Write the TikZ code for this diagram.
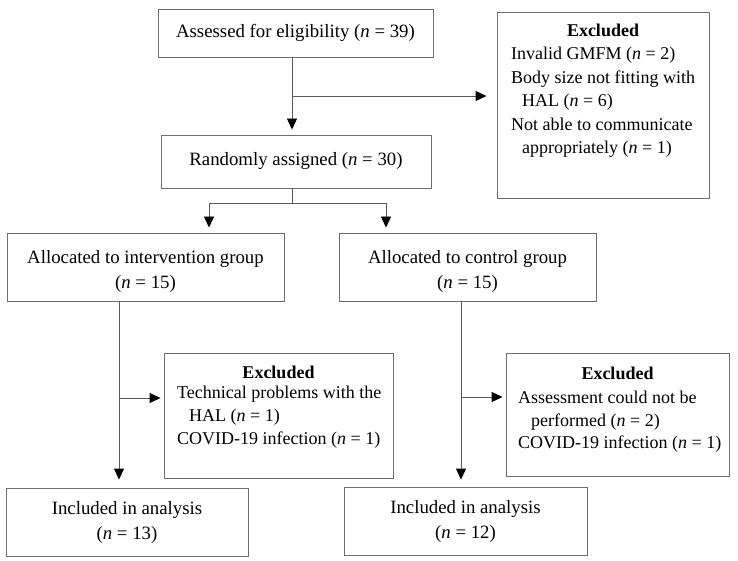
\documentclass[tikz,border=0pt]{standalone}
\usepackage{fontspec}
\setmainfont{Liberation Serif}
\usetikzlibrary{arrows.meta,calc}
\definecolor{boxgray}{HTML}{6E6E6E}
\definecolor{linegray}{HTML}{5A5A5A}
\tikzset{
  box/.style={draw=boxgray, line width=0.9pt, rectangle, inner sep=0pt, align=center,
    font=\fontsize{18.8}{25}\selectfont},
  conn/.style={draw=linegray, line width=0.9pt},
  arr/.style={conn, -{Triangle[length=11pt,width=10pt,color=black,fill=black]}},
  txt/.style={inner sep=0pt, font=\fontsize{18}{23.5}\selectfont},
}
\newcommand{\nn}{\textit{n}}
\newcommand{\lowtwo}[2]{\raisebox{-4pt}[\height][\depth]{\begin{tabular}{@{}c@{}}#1\\#2\end{tabular}}}
\begin{document}
\begin{tikzpicture}[x=1pt,y=-1pt]
\useasboundingbox (0,0) rectangle (738,561);
% boxes
\node[box, minimum width=275pt, minimum height=48pt] (assess) at (295.5,33) {Assessed for eligibility (\nn{} = 39)};
\node[box, minimum width=212pt, minimum height=186pt] (excl1) at (603,105) {};
\node[box, minimum width=270pt, minimum height=53pt] (rand) at (296,161.5) {Randomly assigned (\nn{} = 30)};
\node[box, minimum width=277pt, minimum height=68pt] (interv) at (145.5,267) {\lowtwo{Allocated to intervention group}{(\nn{} = 15)}};
\node[box, minimum width=257pt, minimum height=68pt] (control) at (467.5,267) {\lowtwo{Allocated to control group}{(\nn{} = 15)}};
\node[box, minimum width=229pt, minimum height=125pt] (excl2) at (278.5,415.5) {};
\node[box, minimum width=223pt, minimum height=123pt] (excl3) at (617.5,414.5) {};
\node[box, minimum width=242pt, minimum height=68pt] (incl1) at (127,522) {Included in analysis\\(\nn{} = 13)};
\node[box, minimum width=243pt, minimum height=68pt] (incl2) at (465.5,521) {Included in analysis\\(\nn{} = 12)};
% texts of excluded boxes
\node[txt, anchor=base] (x1t) at (603,37) {\bfseries Excluded};
\node[txt, anchor=base west] (x1a) at (511,60) {Invalid GMFM (\nn{} = 2)};
\node[txt, anchor=base west] (x1b) at (511,83.5) {Body size not fitting with};
\node[txt, anchor=base west] (x1c) at (522,107) {HAL (\nn{} = 6)};
\node[txt, anchor=base west] (x1d) at (511,130.5) {Not able to communicate};
\node[txt, anchor=base west] (x1e) at (522,154) {appropriately (\nn{} = 1)};
\node[txt, anchor=base] (x2t) at (278.5,378) {\bfseries Excluded};
\node[txt, anchor=base west] (x2a) at (177,398) {Technical problems with the};
\node[txt, anchor=base west] (x2b) at (189,421) {HAL (\nn{} = 1)};
\node[txt, anchor=base west] (x2c) at (177,444) {COVID-19 infection (\nn{} = 1)};
\node[txt, anchor=base] (x3t) at (617.5,379) {\bfseries Excluded};
\node[txt, anchor=base west] (x3a) at (518,403) {Assessment could not be};
\node[txt, anchor=base west] (x3b) at (531,426) {performed (\nn{} = 2)};
\node[txt, anchor=base west] (x3c) at (518,448) {COVID-19 infection (\nn{} = 1)};
% connectors
\coordinate (b1) at (292,96);
\draw[arr, shorten >=5pt] (assess.south -| b1) -- (rand.north -| b1);
\draw[arr, shorten >=10pt] (b1) -- (b1 -| excl1.west);
\coordinate (s) at (292,203);
\coordinate (sl) at (209,203);
\coordinate (sr) at (386,203);
\draw[conn] (rand.south -| s) -- (s);
\draw[conn] (sl) -- (sr);
\draw[arr, shorten >=5pt] (sl) -- (interv.north -| sl);
\draw[arr, shorten >=5pt] (sr) -- (control.north -| sr);
\coordinate (vl) at (119,398);
\draw[arr, shorten >=8pt] (interv.south -| vl) -- (incl1.north -| vl);
\draw[arr, shorten >=3pt] (vl) -- (vl -| excl2.west);
\coordinate (vr) at (461,397);
\draw[arr, shorten >=7pt] (control.south -| vr) -- (incl2.north -| vr);
\draw[arr, shorten >=3pt] (vr) -- (vr -| excl3.west);
\end{tikzpicture}
\end{document}
